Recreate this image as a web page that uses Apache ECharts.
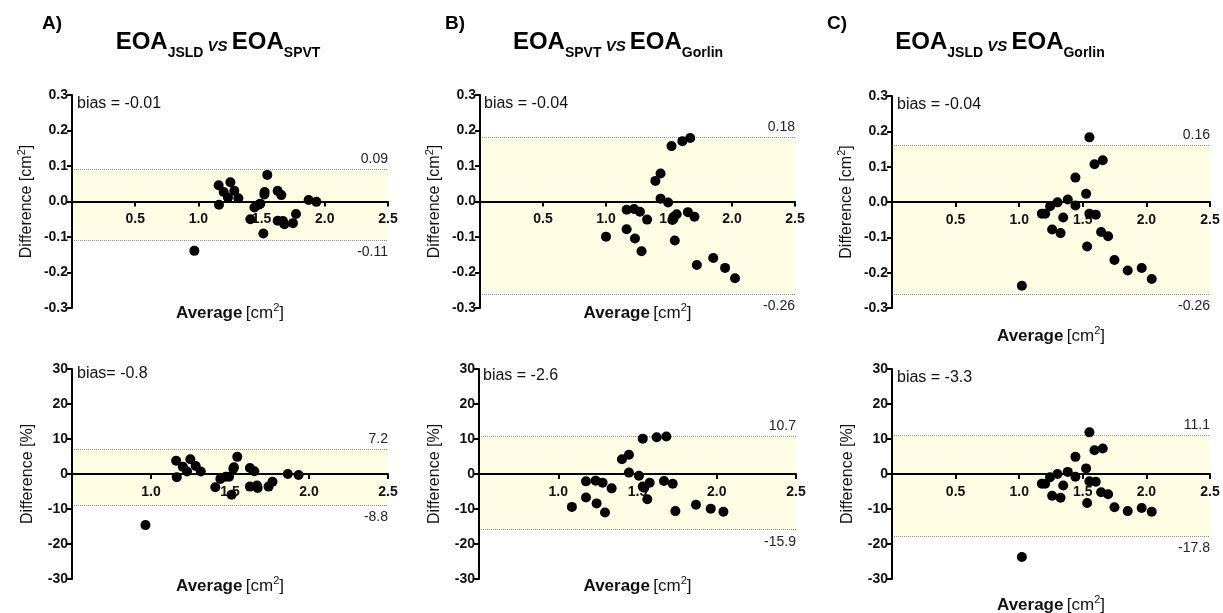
<!DOCTYPE html>
<html>
<head>
<meta charset="utf-8">
<script src="https://cdn.jsdelivr.net/npm/echarts@6/dist/echarts.min.js"></script>
<style>
html,body{margin:0;padding:0;background:#fff;}
#chart{width:1223px;height:613px;}
</style>
</head>
<body>
<div id="chart"></div>
<script>
// ---------- DATA ----------
// Panel A (EOA_JSLD vs EOA_SPVT)
const aCm = [[0.968,-0.139],[1.160,0.046],[1.163,-0.009],[1.200,0.027],[1.234,0.011],[1.253,0.054],[1.284,0.030],[1.316,0.009],[1.411,-0.050],[1.443,-0.017],[1.477,-0.009],[1.490,-0.006],[1.514,-0.090],[1.522,0.020],[1.524,0.027],[1.545,0.075],[1.627,0.030],[1.656,0.018],[1.627,-0.054],[1.669,-0.055],[1.680,-0.064],[1.748,-0.061],[1.772,-0.035],[1.872,0.004],[1.933,-0.001]];
const aPct = [[0.965,-14.6],[1.159,3.8],[1.163,-0.9],[1.201,2.1],[1.228,0.7],[1.249,4.2],[1.283,2.3],[1.315,0.7],[1.407,-3.8],[1.439,-1.4],[1.473,-0.8],[1.494,-0.8],[1.510,-5.9],[1.521,1.5],[1.525,1.9],[1.546,4.9],[1.626,1.7],[1.626,-3.6],[1.654,0.8],[1.671,-3.3],[1.675,-4.0],[1.744,-3.6],[1.769,-2.2],[1.866,0.0],[1.934,-0.3]];
// Panel B (EOA_SPVT vs EOA_Gorlin)
const bCm = [[1.000,-0.099],[1.164,-0.023],[1.164,-0.078],[1.222,-0.021],[1.230,-0.104],[1.269,-0.029],[1.282,-0.140],[1.326,-0.051],[1.392,0.058],[1.433,0.079],[1.433,0.008],[1.493,-0.003],[1.520,0.156],[1.527,-0.052],[1.535,-0.044],[1.561,-0.036],[1.546,-0.110],[1.606,0.170],[1.668,0.179],[1.650,-0.030],[1.702,-0.043],[1.721,-0.179],[1.851,-0.159],[1.945,-0.187],[2.024,-0.216]];
const bPct = [[1.086,-9.4],[1.175,-2.1],[1.175,-6.7],[1.236,-1.9],[1.242,-8.4],[1.280,-2.5],[1.295,-11.0],[1.337,-4.1],[1.402,4.2],[1.446,5.5],[1.446,0.4],[1.509,-0.5],[1.533,10.1],[1.533,-3.6],[1.543,-3.9],[1.562,-7.2],[1.577,-2.5],[1.621,10.5],[1.667,-2.0],[1.682,10.7],[1.722,-2.8],[1.739,-10.6],[1.869,-8.8],[1.962,-9.9],[2.042,-10.8]];
// Panel C (EOA_JSLD vs EOA_Gorlin)
const cCm = [[1.021,-0.237],[1.178,-0.033],[1.204,-0.033],[1.243,-0.012],[1.301,-0.001],[1.259,-0.078],[1.325,-0.088],[1.346,-0.044],[1.382,0.007],[1.442,0.069],[1.442,-0.010],[1.526,0.023],[1.534,-0.126],[1.552,0.183],[1.552,-0.033],[1.602,-0.036],[1.592,0.107],[1.657,0.118],[1.644,-0.085],[1.699,-0.097],[1.749,-0.164],[1.853,-0.194],[1.963,-0.187],[2.042,-0.218]];
const cPct = [[1.021,-23.7],[1.178,-2.8],[1.204,-2.8],[1.243,-0.9],[1.301,0.0],[1.259,-6.2],[1.325,-6.8],[1.346,-3.3],[1.382,0.6],[1.442,4.9],[1.442,-0.8],[1.526,1.6],[1.534,-8.3],[1.552,11.9],[1.552,-2.1],[1.602,-2.2],[1.592,6.8],[1.657,7.3],[1.644,-5.2],[1.699,-5.8],[1.749,-9.5],[1.853,-10.6],[1.963,-9.7],[2.042,-10.8]];

// bias text, upper / lower limits of agreement (line value and label)
const biasLabels = ['bias = -0.01','bias= -0.8','bias = -0.04','bias = -2.6','bias = -0.04','bias = -3.3'];
const upperLoA = [0.088, 7.2, 0.176, 10.7, 0.161, 11.1];
const lowerLoA = [-0.108, -8.8, -0.255, -15.9, -0.258, -17.8];
const upperLbl = ['0.09','7.2','0.18','10.7','0.16','11.1'];
const lowerLbl = ['-0.11','-8.8','-0.26','-15.9','-0.26','-17.8'];
const xMins = [0, 0.5, 0, 0.5, 0, 0];
const xMax = 2.5;
const yTopRange = [-0.3, 0.3, 0.1];
const yBotRange = [-30, 30, 10];
const panelLetters = ['A)','B)','C)'];
const panelTitles = [['JSLD','SPVT'],['SPVT','Gorlin'],['JSLD','Gorlin']];

// ---------- LAYOUT ----------
const FONT = '"Liberation Sans", Arial, Helvetica, sans-serif';
const grids = [
  {left:72, top:95, width:316, height:213},
  {left:72, top:369, width:316, height:210},
  {left:480, top:95, width:315, height:213},
  {left:479, top:369, width:317, height:210},
  {left:892, top:96, width:318, height:212},
  {left:892, top:369, width:318, height:210}
];
const dataSets = [aCm, aPct, bCm, bPct, cCm, cPct];
const avgGaps = [101, 101, 101, 101, 123, 120];
const letterX = [42, 445, 827];
const titleCx = [218, 618, 1000];
const biasPos = [[77,96],[77,366],[484,96],[483,368],[897,97],[897,370]];

const option = {
  backgroundColor:'#fff',
  animation:false,
  title:[], grid:[], xAxis:[], yAxis:[], series:[]
};

for (let p = 0; p < 3; p++) {
  option.title.push({
    text: panelLetters[p], left: letterX[p], top: 14, padding:0,
    textStyle:{fontFamily:FONT, fontWeight:'bold', fontSize:19, color:'#000'}
  });
  option.title.push({
    text: '{m|EOA}{s|' + panelTitles[p][0] + '}{v| VS }{m|EOA}{s|' + panelTitles[p][1] + '}',
    left: titleCx[p], top: 26, padding:0, textAlign:'center',
    textStyle:{rich:{
      m:{fontFamily:FONT, fontWeight:'bold', fontSize:24, color:'#000', lineHeight:28, verticalAlign:'bottom'},
      s:{fontFamily:FONT, fontWeight:'bold', fontSize:14, color:'#000', lineHeight:28, verticalAlign:'bottom', padding:[0,0,-6,0]},
      v:{fontFamily:FONT, fontStyle:'italic', fontSize:15, color:'#000', lineHeight:28, verticalAlign:'bottom'}
    }}
  });
}

for (let i = 0; i < 6; i++) {
  const isTop = (i % 2 === 0);
  const yr = isTop ? yTopRange : yBotRange;
  option.grid.push(Object.assign({containLabel:false, outerBoundsMode:'none'}, grids[i]));
  option.title.push({
    text: biasLabels[i], left: biasPos[i][0], top: biasPos[i][1], padding:0,
    textStyle:{fontFamily:FONT, fontWeight:'normal', fontSize:16, color:'#111'}
  });
  option.xAxis.push({
    type:'value', gridIndex:i, min:xMins[i], max:xMax, interval:0.5, z:4,
    position:'bottom', offset: -grids[i].height / 2,
    axisLine:{onZero:false, lineStyle:{color:'#000', width:2}},
    axisTick:{show:true, length:5, lineStyle:{color:'#000', width:2}},
    splitLine:{show:false},
    axisLabel:{showMinLabel:false, margin:11, color:'#111', fontFamily:FONT, fontWeight:'bold', fontSize:14,
      formatter:v => v.toFixed(1)},
    name:'{b|Average} {n|[cm}{sup|2}{n|]}', nameLocation:'middle', nameGap:avgGaps[i],
    nameTextStyle:{rich:{
      b:{fontFamily:FONT, fontWeight:'bold', fontSize:17, color:'#111', lineHeight:22},
      n:{fontFamily:FONT, fontSize:17, color:'#111', lineHeight:22},
      sup:{fontFamily:FONT, fontSize:11, color:'#111', lineHeight:22, verticalAlign:'top'}
    }}
  });
  option.yAxis.push({
    type:'value', gridIndex:i, min:yr[0], max:yr[1], interval:yr[2], z:4,
    axisLine:{onZero:false, lineStyle:{color:'#000', width:2}},
    axisTick:{show:true, length:5, lineStyle:{color:'#000', width:2}},
    splitLine:{show:false},
    axisLabel:{margin:4, color:'#111', fontFamily:FONT, fontWeight:'bold', fontSize:14,
      formatter: v => isTop ? (Math.abs(v) < 1e-9 ? '0.0' : v.toFixed(1)) : String(Math.round(v))},
    name: isTop ? '{n|Difference [cm}{sup|2}{n|]}' : '{n|Difference [%]}',
    nameLocation:'middle', nameRotate:90, nameGap: isTop ? 34 : 33,
    nameTextStyle:{rich:{
      n:{fontFamily:FONT, fontSize:16, color:'#111', lineHeight:22},
      sup:{fontFamily:FONT, fontSize:11, color:'#111', lineHeight:22, verticalAlign:'top'}
    }}
  });
  option.series.push({
    type:'scatter', xAxisIndex:i, yAxisIndex:i, data:dataSets[i],
    symbol:'circle', symbolSize:10, itemStyle:{color:'#000', opacity:1}, z:5,
    markArea:{silent:true, z:1, label:{show:false}, itemStyle:{color:'#FFFDE3'}, data:[[{yAxis:lowerLoA[i]},{yAxis:upperLoA[i]}]]},
    markLine:{silent:true, symbol:'none', z:3,
      lineStyle:{type:'dotted', color:'#8a8a8a', width:1},
      data:[
        {yAxis:upperLoA[i], label:{show:true, position:'insideEndTop', formatter:upperLbl[i], distance:[0,3],
          fontFamily:FONT, fontSize:14, color:'#222'}},
        {yAxis:lowerLoA[i], label:{show:true, position:'insideEndBottom', formatter:lowerLbl[i], distance:[0,5],
          fontFamily:FONT, fontSize:14, color:'#222'}}
      ]}
  });
}

const chart = echarts.init(document.getElementById('chart'), null, {renderer:'canvas'});
chart.setOption(option);
</script>
</body>
</html>
